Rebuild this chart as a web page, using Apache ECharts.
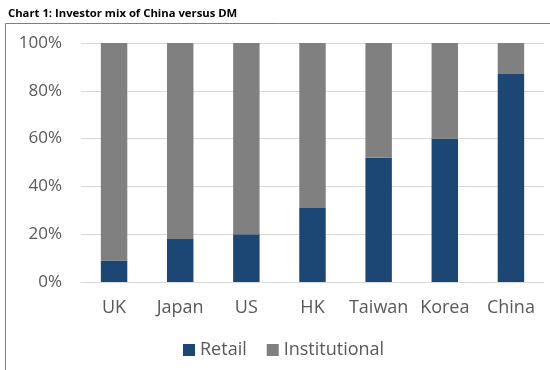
<!DOCTYPE html>
<html>
<head>
<meta charset="utf-8">
<script src="https://cdn.jsdelivr.net/npm/echarts@6/dist/echarts.min.js"></script>
<style>
html,body{margin:0;padding:0;background:#fff;}
#c{width:550px;height:370px;}
</style>
</head>
<body>
<div id="c"></div>
<script>
var categories = ['UK', 'Japan', 'US', 'HK', 'Taiwan', 'Korea', 'China'];
var retail = [9, 18, 20, 31, 52, 60, 87];
var institutional = [91, 82, 80, 69, 48, 40, 13];
var yTicks = [0, 20, 40, 60, 80, 100];

var chart = echarts.init(document.getElementById('c'), null, {renderer: 'canvas'});
var font = '"Open Sans", "Noto Sans", sans-serif';
chart.setOption({
  animation: false,
  backgroundColor: '#fff',
  title: {
    text: 'Chart 1: Investor mix of China versus DM',
    left: 3, top: 3,
    textStyle: {fontFamily: font, fontWeight: 'bold', fontSize: 11.3, color: '#000'}
  },
  graphic: [{
    type: 'rect', left: 3, top: 21, silent: true,
    shape: {x: 0, y: 0, width: 600, height: 400},
    style: {fill: 'none', stroke: '#7f7f7f', lineWidth: 1}
  }],
  legend: {
    data: ['Retail', 'Institutional'],
    bottom: 6, left: 178,
    itemWidth: 12, itemHeight: 12, itemGap: 20,
    icon: 'rect',
    textStyle: {fontFamily: font, fontSize: 18, color: '#595959'}
  },
  grid: {left: 81, right: 6, top: 43, bottom: 88, containLabel: false},
  xAxis: {
    type: 'category', data: categories,
    axisLine: {show: true, lineStyle: {color: '#d9d9d9'}},
    axisTick: {show: false},
    axisLabel: {fontFamily: font, fontSize: 18, color: '#595959', margin: 17, interval: 0}
  },
  yAxis: {
    type: 'value', min: 0, max: 100, interval: 20,
    axisLine: {show: false}, axisTick: {show: false},
    splitLine: {lineStyle: {color: '#d9d9d9'}},
    axisLabel: {fontFamily: font, fontSize: 17, color: '#595959', margin: 19,
      formatter: function (v) { return yTicks.indexOf(v) >= 0 ? v + '%' : ''; }}
  },
  series: [
    {name: 'Retail', type: 'bar', stack: 'a', data: retail, barWidth: '40%',
     itemStyle: {color: '#1C4673'}},
    {name: 'Institutional', type: 'bar', stack: 'a', data: institutional, barWidth: '40%',
     itemStyle: {color: '#808080'}}
  ]
});
</script>
</body>
</html>
